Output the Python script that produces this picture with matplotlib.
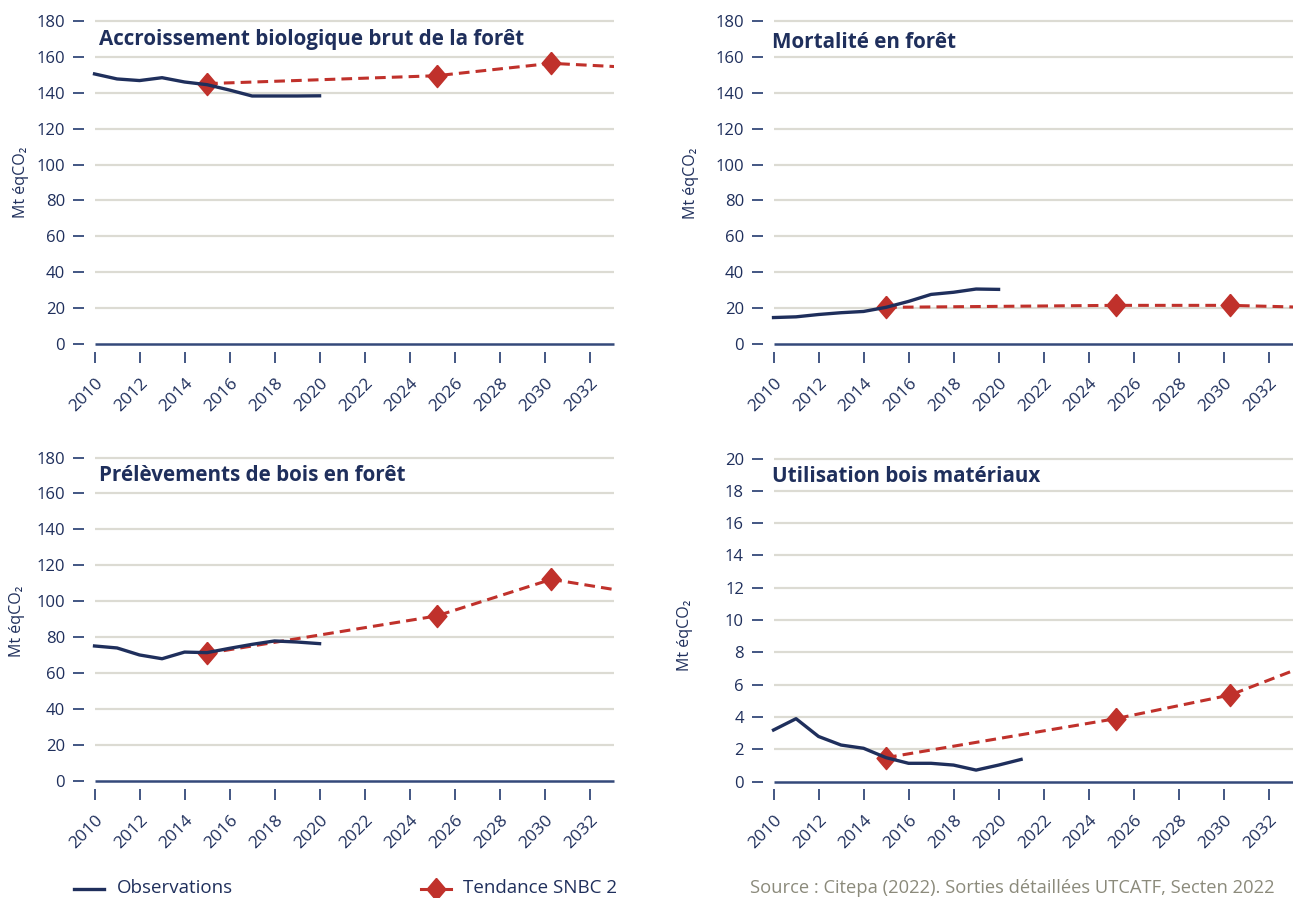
import matplotlib
matplotlib.use("Agg")
import matplotlib.pyplot as plt
from matplotlib.lines import Line2D

plt.rcParams["font.family"] = ["Open Sans", "DejaVu Sans"]

W, H = 1293, 898
NAVY = "#1f2f5c"
ZERO = "#34497a"
RED = "#c0312b"
GRID = "#dcdbd3"
GREY_TXT = "#8b8a7b"

# axe des années
tick_years = list(range(2010, 2034, 2))
obs_years = list(range(2010, 2021))
obs_years_bois = list(range(2010, 2022))
snbc_years = [2015, 2025.2, 2030.3, 2035]

# Mt éqCO2
accroissement_obs = [150.5, 147.7, 146.8, 148.4, 146.0, 144.5, 141.5, 138.2, 138.2, 138.2, 138.3]
accroissement_snbc = [145.1, 149.5, 156.4, 153.4]
mortalite_obs = [14.7, 15.1, 16.4, 17.4, 18.1, 20.4, 23.7, 27.6, 28.8, 30.6, 30.4]
mortalite_snbc = [20.4, 21.5, 21.5, 20.0]
prelevements_obs = [75.1, 74.0, 70.1, 68.0, 71.7, 71.4, 73.8, 76.0, 77.9, 77.3, 76.4]
prelevements_snbc = [71.0, 91.8, 112.2, 102.6]
bois_obs = [3.2, 3.9, 2.8, 2.27, 2.07, 1.49, 1.14, 1.14, 1.03, 0.72, 1.03, 1.38]
bois_snbc = [1.49, 3.9, 5.37, 7.9]

ticks_180 = list(range(0, 181, 20))
ticks_20 = list(range(0, 21, 2))

DIAMOND = [(0, 1), (0.85, 0), (0, -1), (-0.85, 0), (0, 1)]


def px(x, y):
    return x / W, 1 - y / H


def px_rect(left, top, right, bottom):
    return [left / W, 1 - bottom / H, (right - left) / W, (bottom - top) / H]


def panel(fig, rect, ylim, yticks, title, title_xy, ylabel_xy,
          x_obs, y_obs, y_snbc):
    ax = fig.add_axes(rect)
    ax.set_xlim(2009.55, 2033.1)
    ax.set_ylim(*ylim)
    for s in ax.spines.values():
        s.set_visible(False)

    # grille horizontale à partir de 2010
    for v in yticks:
        ax.hlines(v, 2010, 2033.1, color=ZERO if v == 0 else GRID,
                  lw=1.8 if v == 0 else 1.6, zorder=1, clip_on=False)

    ax.set_xticks(tick_years)
    ax.set_xticklabels([str(y) for y in tick_years], rotation=45,
                       ha="right", va="top", rotation_mode="anchor")
    ax.set_yticks(yticks)
    ax.tick_params(axis="both", direction="out", length=8, width=1.3,
                   color=ZERO, labelcolor=NAVY, labelsize=12, pad=6)
    ax.tick_params(axis="x", pad=9, labelsize=12.5)

    ax.plot(snbc_years, y_snbc, color=RED, lw=2.2, ls=(0, (3.5, 2)),
            zorder=2)
    ax.plot(snbc_years[:3], y_snbc[:3], ls="none", marker=DIAMOND,
            ms=16, color=RED, zorder=3)
    ax.plot(x_obs, y_obs, color=NAVY, lw=2.4, zorder=4)

    fig.text(*px(*title_xy), title, color=NAVY, fontsize=14.9,
             fontweight="bold", ha="left", va="center")
    fig.text(*px(*ylabel_xy), "Mt éqCO₂", color=NAVY, fontsize=11.5,
             rotation=90, ha="center", va="center")
    return ax


fig = plt.figure(figsize=(W / 100, H / 100), dpi=100)
fig.patch.set_facecolor("white")

panel(fig, px_rect(84.4, 21, 614.4, 352), (-4.5, 180), ticks_180,
      "Accroissement biologique brut de la forêt", (99, 39), (21, 182),
      obs_years, accroissement_obs, accroissement_snbc)
panel(fig, px_rect(763.4, 21, 1293.4, 352), (-4.5, 180), ticks_180,
      "Mortalité en forêt", (772, 42), (691, 183),
      obs_years, mortalite_obs, mortalite_snbc)
panel(fig, px_rect(84.4, 457.5, 614.4, 789), (-4.5, 180), ticks_180,
      "Prélèvements de bois en forêt", (99, 475), (17, 621),
      obs_years, prelevements_obs, prelevements_snbc)
panel(fig, px_rect(763.4, 458.5, 1293.4, 789), (-0.45, 20), ticks_20,
      "Utilisation bois matériaux", (772, 476), (685, 635),
      obs_years_bois, bois_obs, bois_snbc)

# légende
x0, y0 = px(74, 889)
x1, _ = px(104, 889)
fig.add_artist(Line2D([x0, x1], [y0, y0], color=NAVY, lw=2.4,
                      transform=fig.transFigure))
fig.text(*px(117, 888), "Observations", color=NAVY, fontsize=13.5,
         ha="left", va="center")
x0, y0 = px(421, 889)
x1, _ = px(451, 889)
fig.add_artist(Line2D([x0, x1], [y0, y0], color=RED, lw=2.2,
                      transform=fig.transFigure))
fig.add_artist(Line2D([(x0 + x1) / 2], [y0], color=RED, ls="none",
                      marker=DIAMOND, ms=16, transform=fig.transFigure))
fig.text(*px(463, 888), "Tendance SNBC 2", color=NAVY, fontsize=13.5,
         ha="left", va="center")

fig.text(*px(750, 888), "Source : Citepa (2022). Sorties détaillées UTCATF, Secten 2022",
         color=GREY_TXT, fontsize=13.2, ha="left", va="center")

fig.savefig("out.png", dpi=100)
